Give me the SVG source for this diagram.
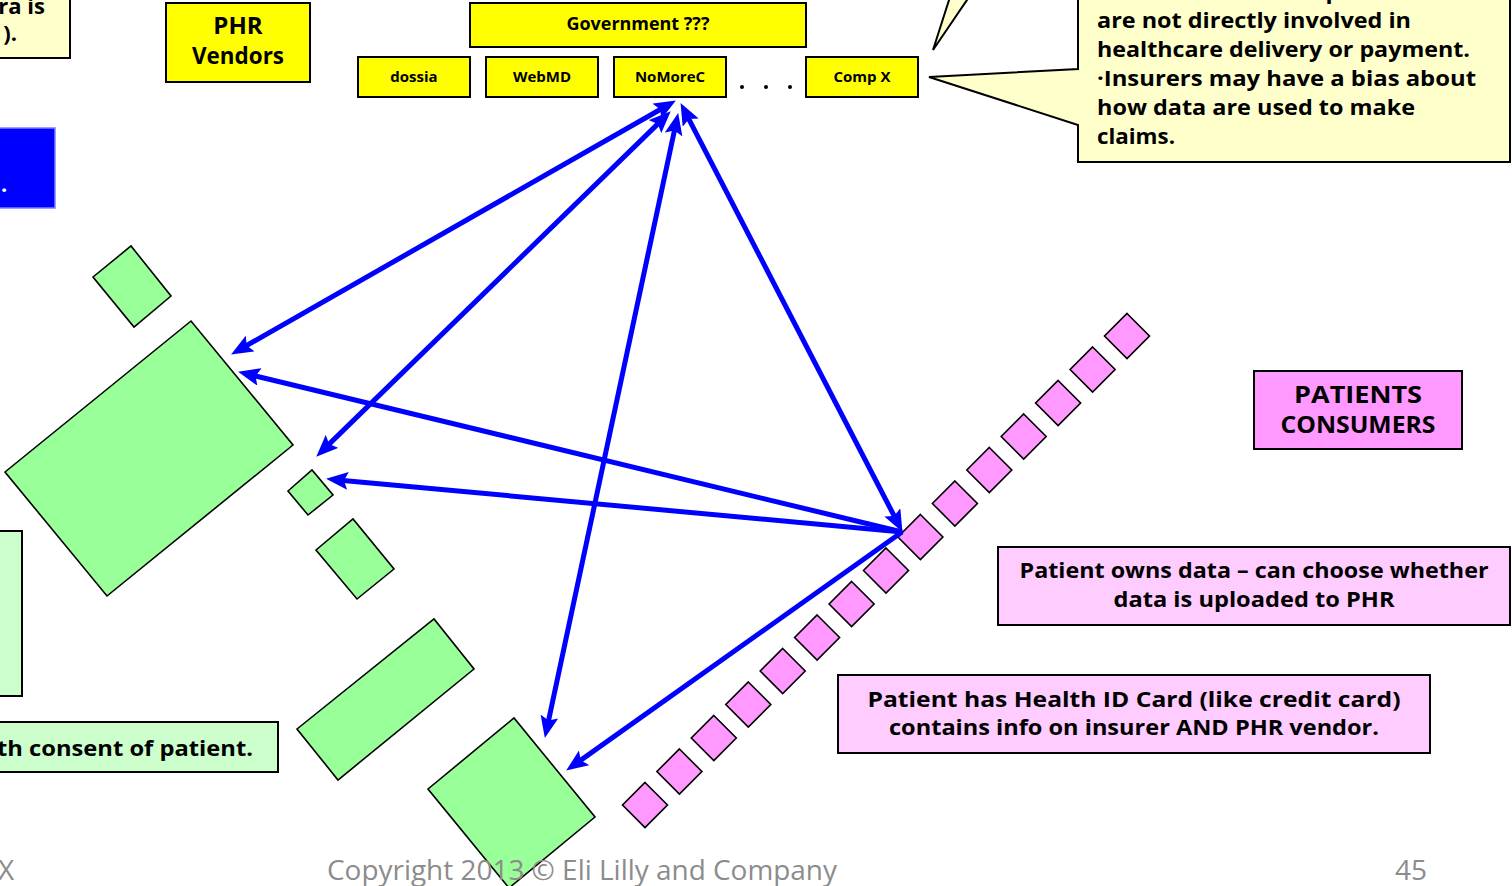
<svg xmlns="http://www.w3.org/2000/svg" xmlns:xlink="http://www.w3.org/1999/xlink" width="1512" height="886" viewBox="0 0 1512 886">
  <style>
    .box { stroke: #000; stroke-width: 2; }
    .yel { fill: #FFFF00; }
    .note { fill: #FFFFCC; }
    .lgreen { fill: #CCFFCC; }
    .pink { fill: #FF99FF; }
    .lpink { fill: #FFCCFF; }
    .shape { fill: #99FF99; stroke: #000; stroke-width: 1.6; }
    .card { fill: #FF99FF; stroke: #000; stroke-width: 1.6; }
    .t { font-family: 'Open Sans', 'DejaVu Sans', sans-serif; font-weight: bold; fill: #000; }
    .c { text-anchor: middle; }
    .foot { font-family: 'Open Sans', 'Liberation Sans', sans-serif; font-size: 28px; fill: #8C8C8C; }
    .arrow { fill: none; stroke: #0000FF; stroke-width: 5; }
  </style>
  <defs>
    <marker id="head" viewBox="0 0 22 18" refX="13" refY="9" markerWidth="22" markerHeight="18" markerUnits="userSpaceOnUse" orient="auto-start-reverse">
      <path d="M0,0 L22,9 L0,18 L4,9 Z" fill="#0000FF"/>
    </marker>
    <polygon id="diamond" points="0,-22.5 22.5,0 0,22.5 -22.5,0"/>
  </defs>

  <rect width="1512" height="886" fill="#FFFFFF"/>

  <!-- partial note, top left -->
  <g id="note-topleft">
    <rect class="box note" x="-3" y="-3" width="73" height="61"/>
    <text class="t" x="45" y="14" font-size="22" text-anchor="end">ra is</text>
    <text class="t" x="17" y="41" font-size="22" text-anchor="end">).</text>
  </g>

  <!-- partial blue panel -->
  <g id="blue-panel">
    <rect x="-3" y="128" width="58" height="80" fill="#0000FF" stroke="#7F7FFF" stroke-width="1.5"/>
    <text class="t" x="1" y="192" font-size="22" style="fill:#FFFFFF">.</text>
  </g>

  <g id="phr-vendors">
    <rect class="box yel" x="166" y="3" width="144" height="79"/>
    <text class="t c" x="238" y="34" font-size="24">PHR</text>
    <text class="t c" x="238" y="64" font-size="24" textLength="92" lengthAdjust="spacingAndGlyphs">Vendors</text>
  </g>

  <g id="government">
    <rect class="box yel" x="470" y="3" width="336" height="44"/>
    <text class="t c" x="638" y="30" font-size="17" textLength="143" lengthAdjust="spacingAndGlyphs">Government ???</text>
  </g>

  <g id="vendor-dossia">
    <rect class="box yel" x="358" y="57" width="112" height="40"/>
    <text class="t c" x="414" y="82" font-size="15">dossia</text>
  </g>
  <g id="vendor-webmd">
    <rect class="box yel" x="486" y="57" width="112" height="40"/>
    <text class="t c" x="542" y="82" font-size="15">WebMD</text>
  </g>
  <g id="vendor-nomorec">
    <rect class="box yel" x="614" y="57" width="112" height="40"/>
    <text class="t c" x="670" y="82" font-size="15">NoMoreC</text>
  </g>
  <g id="vendor-ellipsis">
    <circle cx="742" cy="87" r="2"/>
    <circle cx="766" cy="87" r="2"/>
    <circle cx="790" cy="87" r="2"/>
  </g>
  <g id="vendor-compx">
    <rect class="box yel" x="806" y="57" width="112" height="40"/>
    <text class="t c" x="862" y="82" font-size="15">Comp X</text>
  </g>

  <!-- callouts -->
  <g id="callout-upper">
    <polygon class="box note" points="950,-3 969,-3 933,50"/>
  </g>
  <g id="callout-insurers">
    <path class="box note" d="M1078,-3 L1510,-3 L1510,162 L1078,162 L1078,125 L929,77 L1078,69 Z"/>
    <text class="t" x="1097" y="-1" font-size="22" textLength="360" lengthAdjust="spacingAndGlyphs">in the hands of companies that</text>
    <text class="t" x="1097" y="28" font-size="22" textLength="314" lengthAdjust="spacingAndGlyphs">are not directly involved in</text>
    <text class="t" x="1097" y="57" font-size="22" textLength="373" lengthAdjust="spacingAndGlyphs">healthcare delivery or payment.</text>
    <text class="t" x="1097" y="86" font-size="22" textLength="379" lengthAdjust="spacingAndGlyphs">·Insurers may have a bias about</text>
    <text class="t" x="1097" y="115" font-size="22" textLength="318" lengthAdjust="spacingAndGlyphs">how data are used to make</text>
    <text class="t" x="1097" y="144" font-size="22" textLength="78" lengthAdjust="spacingAndGlyphs">claims.</text>
  </g>

  <!-- provider-side shapes -->
  <g id="provider-shapes">
    <polygon class="shape" points="93,277 131,246 171,296 134,327"/>
    <polygon class="shape" points="5,472 191,321 293,445 107,596"/>
    <polygon class="shape" points="288,491 312,470 333,495 308,515"/>
    <polygon class="shape" points="316,550 353,519 394,569 357,599"/>
    <polygon class="shape" points="297,729 434,619 474,669 338,780"/>
  </g>

  <g id="left-panel">
    <rect class="box lgreen" x="-3" y="531" width="25" height="165"/>
  </g>

  <g id="consent-note">
    <rect class="box lgreen" x="-3" y="722" width="281" height="50"/>
    <text class="t" x="-3" y="756" font-size="22" textLength="256" lengthAdjust="spacingAndGlyphs">th consent of patient.</text>
  </g>

  <!-- health ID cards -->
  <g id="cards">
    <use href="#diamond" class="card" x="1127" y="336"/>
    <use href="#diamond" class="card" x="1092.6" y="369.5"/>
    <use href="#diamond" class="card" x="1058.1" y="403.0"/>
    <use href="#diamond" class="card" x="1023.7" y="436.5"/>
    <use href="#diamond" class="card" x="989.3" y="470.0"/>
    <use href="#diamond" class="card" x="954.9" y="503.5"/>
    <use href="#diamond" class="card" x="920.4" y="537.0"/>
    <use href="#diamond" class="card" x="886.0" y="570.5"/>
    <use href="#diamond" class="card" x="851.6" y="604.0"/>
    <use href="#diamond" class="card" x="817.1" y="637.5"/>
    <use href="#diamond" class="card" x="782.7" y="671.0"/>
    <use href="#diamond" class="card" x="748.3" y="704.5"/>
    <use href="#diamond" class="card" x="713.8" y="738.0"/>
    <use href="#diamond" class="card" x="679.4" y="771.5"/>
    <use href="#diamond" class="card" x="645.0" y="805.0"/>
  </g>

  <g id="patients-consumers">
    <rect class="box pink" x="1254" y="371" width="208" height="78"/>
    <text class="t c" x="1358" y="403" font-size="24" textLength="128" lengthAdjust="spacingAndGlyphs">PATIENTS</text>
    <text class="t c" x="1358" y="433" font-size="24" textLength="155" lengthAdjust="spacingAndGlyphs">CONSUMERS</text>
  </g>

  <g id="patient-owns">
    <rect class="box lpink" x="998" y="547" width="512" height="78"/>
    <text class="t c" x="1254" y="578" font-size="22" textLength="469" lengthAdjust="spacingAndGlyphs">Patient owns data – can choose whether</text>
    <text class="t c" x="1254" y="607" font-size="22" textLength="281" lengthAdjust="spacingAndGlyphs">data is uploaded to PHR</text>
  </g>

  <g id="health-id">
    <rect class="box lpink" x="838" y="675" width="592" height="78"/>
    <text class="t c" x="1134" y="707" font-size="22" textLength="533" lengthAdjust="spacingAndGlyphs">Patient has Health ID Card (like credit card)</text>
    <text class="t c" x="1134" y="735" font-size="22" textLength="490" lengthAdjust="spacingAndGlyphs">contains info on insurer AND PHR vendor.</text>
  </g>

  <g id="bottom-shape">
    <polygon class="shape" points="428,789 514,718 595,817 509,888"/>
  </g>

  <!-- data flows -->
  <g id="connectors">
    <line class="arrow" x1="238.9" y1="350.0" x2="668.1" y2="105.0" marker-start="url(#head)" marker-end="url(#head)"/>
    <line class="arrow" x1="322.7" y1="450.4" x2="664.3" y2="117.6" marker-start="url(#head)" marker-end="url(#head)"/>
    <line class="arrow" x1="546.7" y1="729.2" x2="676.3" y2="121.8" marker-start="url(#head)" marker-end="url(#head)"/>
    <line class="arrow" x1="898.3" y1="523.9" x2="684.7" y2="111.1" marker-start="url(#head)" marker-end="url(#head)"/>
    <line class="arrow" x1="902" y1="532" x2="246.8" y2="373.9" marker-end="url(#head)"/>
    <line class="arrow" x1="902" y1="532" x2="335.0" y2="479.7" marker-end="url(#head)"/>
    <line class="arrow" x1="902" y1="532" x2="573.5" y2="765.4" marker-end="url(#head)"/>
  </g>

  <g id="footer">
    <text class="foot" x="-2" y="880">X</text>
    <text class="foot" x="327" y="880" textLength="510" lengthAdjust="spacingAndGlyphs">Copyright 2013 © Eli Lilly and Company</text>
    <text class="foot" x="1395" y="880">45</text>
  </g>
</svg>
